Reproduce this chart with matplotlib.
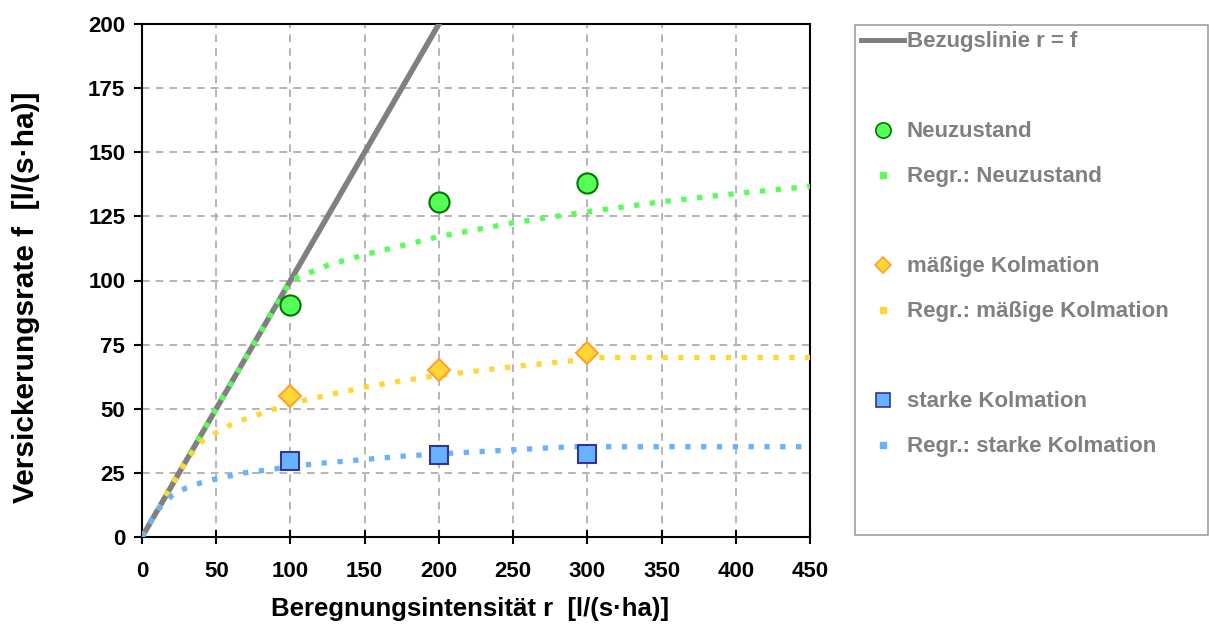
import matplotlib
matplotlib.use("Agg")
import matplotlib.pyplot as plt
from matplotlib.lines import Line2D
from matplotlib.patches import Rectangle

plt.rcParams['font.family'] = ['Liberation Sans', 'DejaVu Sans']
plt.rcParams['font.weight'] = 'bold'

# measured points
r_mess = [100, 200, 300]
f_neu = [90.4, 130.6, 138.0]
f_maessig = [55.0, 65.1, 71.7]
f_stark = [29.6, 32.0, 32.4]

# regression curves
r_reg_neu = [0, 100, 125, 150, 200, 250, 300, 350, 400, 450]
f_reg_neu = [0, 100, 105.9, 110.1, 117.1, 122.5, 126.8, 130.7, 133.9, 136.7]

r_reg_maessig = [0, 30, 40, 50, 60, 70, 80, 90, 100, 125, 150, 175, 200, 250, 290, 300, 450]
f_reg_maessig = [0, 30, 37.2, 40.7, 43.8, 46.1, 48.1, 50.0, 52.1, 55.3, 58.4, 60.9, 63.0, 66.4, 68.7, 70.0, 70.0]

r_reg_stark = [0, 10, 20, 30, 40, 50, 60, 70, 80, 90, 100, 125, 150, 175, 200, 250, 290, 450]
f_reg_stark = [0, 10.3, 16.1, 19.2, 21.2, 22.7, 23.9, 25.1, 25.8, 26.6, 27.5, 29.0, 30.2, 31.5, 32.4, 34.0, 35.2, 35.2]

# reference line r = f
r_bez = [0, 450]

c_gruen = '#55FF55'
c_gelb = '#FFD633'
c_blau = '#66B2FF'
c_grau = '#808080'

fig = plt.figure(figsize=(12.09, 6.26), dpi=100)
ax = fig.add_axes([142/1209, 1-537/626, (810-142)/1209, (537-24)/626])

dots = dict(linewidth=3.8, dashes=(1, 2), dash_capstyle='butt', solid_capstyle='butt')

ax.plot(r_bez, r_bez, color=c_grau, linewidth=4, zorder=3, solid_capstyle='butt')
ax.plot(r_reg_neu, f_reg_neu, color=c_gruen, zorder=4, **dots)
ax.plot(r_reg_maessig, f_reg_maessig, color=c_gelb, zorder=4, **dots)
ax.plot(r_reg_stark, f_reg_stark, color=c_blau, zorder=4, **dots)

ax.plot(r_mess, f_neu, linestyle='none', marker='o', markersize=14.5,
        markerfacecolor=c_gruen, markeredgecolor='#007700', markeredgewidth=1.5, zorder=5)
ax.plot(r_mess, f_maessig, linestyle='none', marker='D', markersize=11.5,
        markerfacecolor=c_gelb, markeredgecolor='#FFA030', markeredgewidth=1.5, zorder=5)
ax.plot(r_mess, f_stark, linestyle='none', marker='s', markersize=13,
        markerfacecolor=c_blau, markeredgecolor='#333399', markeredgewidth=1.5, zorder=5)

ax.set_xlim(0, 450)
ax.set_ylim(0, 200)
ax.set_xticks(range(0, 451, 50))
ax.set_yticks(range(0, 201, 25))
ax.grid(True, color='#A0A0A0', linestyle=(0, (5, 4)), linewidth=1.1, zorder=1)
ax.set_axisbelow(True)
for s in ax.spines.values():
    s.set_linewidth(1.5)
    s.set_color('black')
ax.tick_params(axis='x', direction='inout', length=10, width=1.5, labelsize=16, pad=12)
ax.tick_params(axis='y', direction='out', length=6, width=1.5, labelsize=16, pad=6)

ax.set_xlabel('Beregnungsintensität r  [l/(s·ha)]', fontsize=18.5, fontweight='bold')
ax.set_ylabel('Versickerungsrate f  [l/(s·ha)]', fontsize=21.5, fontweight='bold')
ax.xaxis.set_label_coords(0.491, -0.140)
ax.xaxis.label.set_verticalalignment('center')
ax.yaxis.set_label_coords(-0.174, 0.468)
ax.yaxis.label.set_verticalalignment('center')

# legend with spacer rows
leer = Line2D([], [], linestyle='none')
handles = [
    Line2D([], [], color=c_grau, linewidth=3.6),
    leer,
    Line2D([], [], linestyle='none', marker='o', markersize=11, markerfacecolor=c_gruen,
           markeredgecolor='#007700', markeredgewidth=1.2),
    Line2D([], [], linestyle='none', marker='s', markersize=4, color=c_gruen),
    leer,
    Line2D([], [], linestyle='none', marker='D', markersize=8, markerfacecolor=c_gelb,
           markeredgecolor='#FFA030', markeredgewidth=1.2),
    Line2D([], [], linestyle='none', marker='s', markersize=4, color=c_gelb),
    leer,
    Line2D([], [], linestyle='none', marker='s', markersize=10, markerfacecolor=c_blau,
           markeredgecolor='#333399', markeredgewidth=1.2),
    Line2D([], [], linestyle='none', marker='s', markersize=4, color=c_blau),
]
labels = ['Bezugslinie r = f', ' ', 'Neuzustand', 'Regr.: Neuzustand', ' ',
          'mäßige Kolmation', 'Regr.: mäßige Kolmation', ' ',
          'starke Kolmation', 'Regr.: starke Kolmation']

fig.patches.append(Rectangle((855/1209, 1-535/626), (1208-855)/1209, (535-25)/626,
                             transform=fig.transFigure, fill=False,
                             edgecolor='#A0A0A0', linewidth=1.2))
leg = fig.legend(handles, labels, loc='upper left', bbox_to_anchor=(857/1209, 1-27/626),
                 frameon=False, fontsize=16, handlelength=1.9, handletextpad=0.15,
                 labelspacing=1.08, borderpad=0.2, borderaxespad=0)
for t in leg.get_texts():
    t.set_color(c_grau)
    t.set_fontweight('bold')

fig.savefig('out.png', dpi=100)
